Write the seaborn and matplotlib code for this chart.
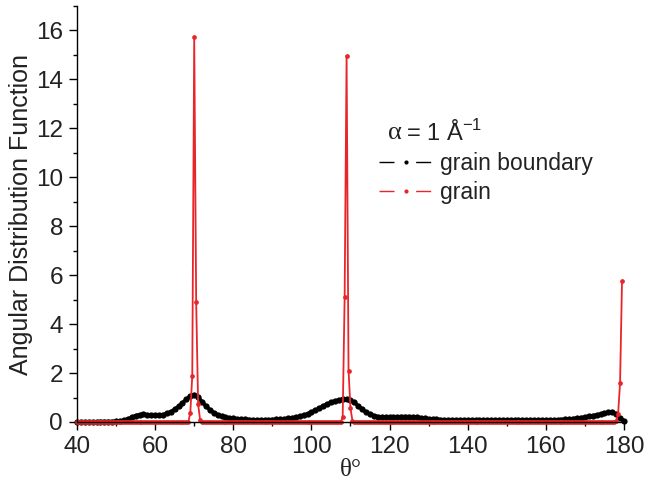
import numpy as np
import matplotlib
matplotlib.use('Agg')
import matplotlib.pyplot as plt
from matplotlib.lines import Line2D
from matplotlib.ticker import MultipleLocator
import seaborn as sns

# grain boundary ADF, sampled every degree from 40 to 180
gb_theta = np.arange(40, 181, 1)
gb_adf = [0.01, 0.01, 0.01, 0.01, 0.01, 0.01, 0.02, 0.02, 0.02, 0.02,
          0.03, 0.04, 0.07, 0.12, 0.19, 0.26, 0.30, 0.31, 0.30, 0.28,
          0.27, 0.28, 0.30, 0.35, 0.42, 0.52, 0.64, 0.78, 0.93, 1.07,
          1.12, 1.02, 0.83, 0.65, 0.50, 0.38, 0.30, 0.24, 0.20, 0.17,
          0.15, 0.13, 0.12, 0.11, 0.10, 0.09, 0.08, 0.08, 0.08, 0.09,
          0.10, 0.11, 0.12, 0.13, 0.15, 0.17, 0.20, 0.23, 0.28, 0.33,
          0.40, 0.48, 0.56, 0.65, 0.73, 0.80, 0.86, 0.90, 0.93, 0.94,
          0.90, 0.80, 0.66, 0.52, 0.40, 0.32, 0.26, 0.22, 0.20, 0.19,
          0.19, 0.20, 0.21, 0.22, 0.22, 0.22, 0.21, 0.19, 0.17, 0.15,
          0.13, 0.12, 0.11, 0.10, 0.09, 0.09, 0.08, 0.08, 0.08, 0.08,
          0.07, 0.07, 0.07, 0.07, 0.07, 0.07, 0.07, 0.07, 0.07, 0.07,
          0.07, 0.07, 0.07, 0.07, 0.07, 0.08, 0.08, 0.08, 0.08, 0.08,
          0.08, 0.08, 0.09, 0.09, 0.10, 0.11, 0.12, 0.14, 0.16, 0.18,
          0.20, 0.23, 0.26, 0.29, 0.32, 0.36, 0.39, 0.40, 0.33, 0.18,
          0.03]

# grain ADF, sampled every half degree; zero except near the peaks
grain_theta = np.arange(40, 180, 0.5)
peak_theta = [69.0, 69.5, 70.0, 70.5, 71.0, 71.5,
              108.0, 108.5, 109.0, 109.5, 110.0, 110.5,
              178.0, 178.5, 179.0, 179.5]
peak_adf = [0.38, 1.9, 15.72, 4.92, 0.72, 0.1,
            0.2, 5.1, 14.95, 2.1, 0.56, 0.05,
            0.05, 0.33, 1.6, 5.76]

grain_adf = np.zeros(len(grain_theta))
for t, v in zip(peak_theta, peak_adf):
    grain_adf[np.isclose(grain_theta, t)] = v

red = '#e8262a'

sns.set_theme(style='ticks')
plt.rcParams['font.family'] = ['Liberation Sans', 'DejaVu Sans']

fig = plt.figure(figsize=(6.45, 4.84), dpi=100)
ax = fig.add_axes([0.1194, 0.1281, 0.848, 0.8595])

sns.lineplot(x=gb_theta, y=gb_adf, ax=ax, color='black', linewidth=2.6,
             marker='o', markersize=4.5, markeredgewidth=0, clip_on=False)
sns.lineplot(x=grain_theta, y=grain_adf, ax=ax, color=red, linewidth=1.3,
             marker='o', markersize=3.4, markeredgewidth=0, clip_on=False)

ax.set_xlim(40, 180)
ax.set_ylim(0, 17)
ax.xaxis.set_major_locator(MultipleLocator(20))
ax.xaxis.set_minor_locator(MultipleLocator(10))
ax.yaxis.set_major_locator(MultipleLocator(2))
ax.yaxis.set_minor_locator(MultipleLocator(1))
ax.tick_params(which='major', length=5.5, width=1, color='black',
               labelsize=17.5, pad=4.5, labelcolor='#222222')
ax.tick_params(which='minor', length=3, width=1, color='black')
sns.despine(ax=ax)
for s in ('left', 'bottom'):
    ax.spines[s].set_color('black')
    ax.spines[s].set_linewidth(1)

ax.set_ylabel('Angular Distribution Function', fontsize=18, color='#222222',
              labelpad=2)
ax.set_xlabel('θ°', fontsize=18, family=['Liberation Serif', 'DejaVu Serif'],
              color='#222222', labelpad=1)

# legend title
ax.text(0.569, 0.695, 'α', transform=ax.transAxes, fontsize=19,
        family=['Liberation Serif', 'DejaVu Serif'], va='center', ha='left',
        color='#222222')
ax.text(0.602, 0.695, r'= 1 Å$^{\mathregular{-1}}$', transform=ax.transAxes,
        fontsize=17, va='center', ha='left', color='#222222')

handles = [Line2D([], [], color='black', lw=1, dashes=(10.8, 15.6),
                  marker='o', markersize=3, markeredgewidth=0),
           Line2D([], [], color=red, lw=1, dashes=(10.8, 15.6),
                  marker='o', markersize=3, markeredgewidth=0)]
ax.legend(handles, ['grain boundary', 'grain'], loc='upper left',
          bbox_to_anchor=(0.552, 0.649), frameon=False, fontsize=16.5,
          handlelength=2.33, handletextpad=0.35, labelspacing=0.25,
          borderaxespad=0, borderpad=0, labelcolor='#222222')

fig.savefig('out.png', dpi=100)
